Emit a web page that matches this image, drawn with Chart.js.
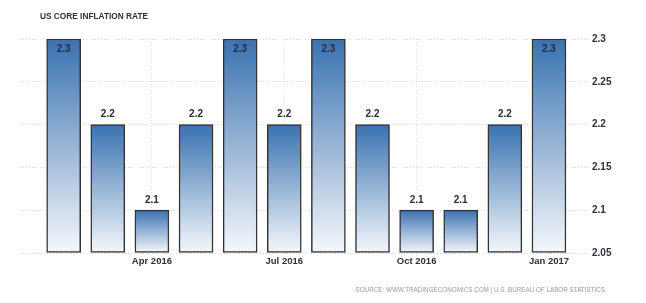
<!DOCTYPE html>
<html lang="en">
<head>
    <meta charset="utf-8" />
    <title>US Core Inflation Rate</title>
    <style>
        * {
            padding: 0;
            margin: 0;
            box-sizing: border-box;
        }
        body {
            background: #ffffff;
        }
        .wrapper {
            position: relative;
            width: 646px;
            height: 303px;
        }
    </style>
</head>
<body>
    <div class="wrapper">
        <canvas id="chart" width="646" height="303"></canvas>
    </div>
    <script src="https://cdn.jsdelivr.net/npm/chart.js@4/dist/chart.umd.min.js"></script>
    <script>
        const months = ["Feb 2016", "Mar 2016", "Apr 2016", "May 2016", "Jun 2016", "Jul 2016",
            "Aug 2016", "Sep 2016", "Oct 2016", "Nov 2016", "Dec 2016", "Jan 2017"];
        const rates = [2.3, 2.2, 2.1, 2.2, 2.3, 2.2, 2.3, 2.2, 2.1, 2.1, 2.2, 2.3];
        const tickMonths = [2, 5, 8, 11];
        const yTicks = [2.05, 2.1, 2.15, 2.2, 2.25, 2.3];

        const FONT = "'Liberation Sans', Arial, sans-serif";

        // gradient per bar, dark at the top, near white at the base
        const barFill = (ctx) => {
            const chart = ctx.chart;
            const area = chart.chartArea;
            if (!area || ctx.dataIndex === undefined) return "#4a80b8";
            const top = chart.scales.y.getPixelForValue(rates[ctx.dataIndex]);
            const g = chart.ctx.createLinearGradient(0, top, 0, area.bottom);
            g.addColorStop(0, "#3a72b0");
            g.addColorStop(1, "#f5f8fc");
            return g;
        };

        const textPlugin = {
            id: "texts",
            afterDraw(chart) {
                const c = chart.ctx;
                c.save();
                c.fillStyle = "#2f2f3f";
                c.font = "bold 8.3px " + FONT;
                c.textBaseline = "middle";
                c.fillText("US CORE INFLATION RATE", 40, 17);
                c.fillStyle = "#9a9a9a";
                c.font = "6.3px " + FONT;
                c.textAlign = "right";
                c.fillText("SOURCE: WWW.TRADINGECONOMICS.COM | U.S. BUREAU OF LABOR STATISTICS", 605, 290);
                // value labels
                c.fillStyle = "#2b2b3b";
                c.font = "bold 10px " + FONT;
                c.textAlign = "center";
                const meta = chart.getDatasetMeta(0);
                meta.data.forEach((bar, i) => {
                    const y = rates[i] >= 2.3 ? bar.y + 10 : bar.y - 10;
                    c.fillText(rates[i].toFixed(1), bar.x, y);
                });
                c.restore();
            }
        };

        new Chart(document.getElementById("chart"), {
            type: "bar",
            plugins: [textPlugin],
            data: {
                datasets: [{
                    data: rates.map((v, i) => ({ x: i, y: v })),
                    base: 2.05,
                    backgroundColor: barFill,
                    borderColor: "#333333",
                    borderWidth: 1.5,
                    borderSkipped: false,
                    barThickness: 34,
                    clip: 4
                }]
            },
            options: {
                responsive: false,
                animation: false,
                layout: { padding: { left: 20, right: 16, top: 39, bottom: 30 } },
                plugins: {
                    legend: { display: false },
                    tooltip: { enabled: false }
                },
                scales: {
                    x: {
                        type: "linear",
                        offset: false,
                        min: -0.99,
                        max: 11.93,
                        afterBuildTicks: (scale) => {
                            scale.ticks = tickMonths.map(v => ({ value: v }));
                        },
                        afterFit: (scale) => { scale.height = 20; },
                        ticks: {
                            autoSkip: false,
                            maxRotation: 0,
                            padding: 3,
                            color: "#2f2f3f",
                            font: { family: FONT, size: 9.5, weight: "bold" },
                            callback: (v) => months[v]
                        },
                        grid: {
                            offset: false,
                            color: "#e0e0e0",
                            drawTicks: false
                        },
                        border: { display: false, dash: [1, 2] }
                    },
                    y: {
                        position: "right",
                        min: 2.05,
                        max: 2.3,
                        afterBuildTicks: (scale) => {
                            scale.ticks = yTicks.map(v => ({ value: v }));
                        },
                        afterFit: (scale) => { scale.width = 40; },
                        ticks: {
                            padding: 2,
                            color: "#2f2f3f",
                            font: { family: FONT, size: 10, weight: "bold" },
                            callback: (v) => String(+v.toFixed(2))
                        },
                        grid: {
                            color: "#d6d6d6",
                            drawTicks: false
                        },
                        border: { display: false, dash: [1, 2] }
                    }
                }
            }
        });
    </script>
</body>
</html>
